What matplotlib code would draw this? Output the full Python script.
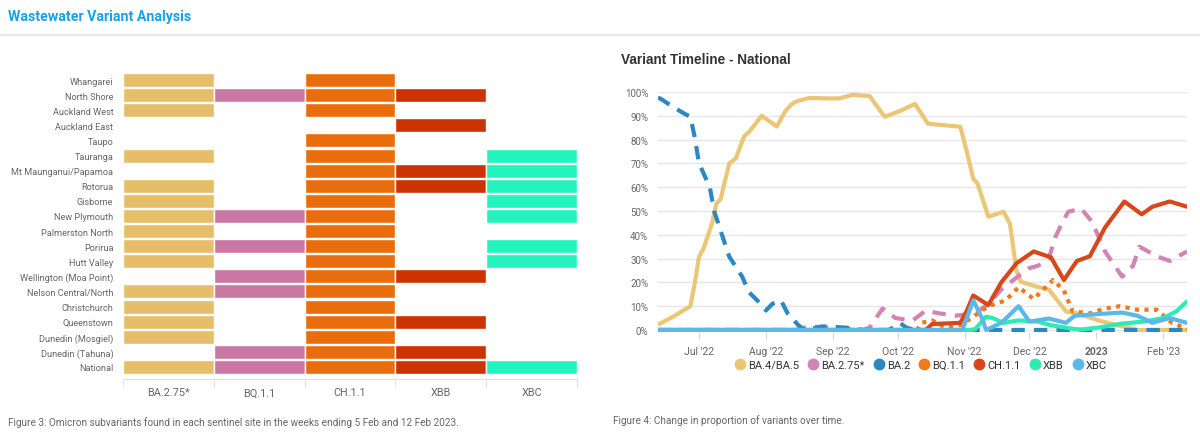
import matplotlib.pyplot as plt
import pandas as pd
from matplotlib.lines import Line2D
from matplotlib.ticker import FuncFormatter

plt.rcParams['font.family'] = ['Roboto', 'DejaVu Sans']

# ---- Figure 3 data: which variants were found at each site ----
sites = [
    "Whangarei", "North Shore", "Auckland West", "Auckland East", "Taupo",
    "Tauranga", "Mt Maunganui/Papamoa", "Rotorua", "Gisborne", "New Plymouth",
    "Palmerston North", "Porirua", "Hutt Valley", "Wellington (Moa Point)",
    "Nelson Central/North", "Christchurch", "Queenstown", "Dunedin (Mosgiel)",
    "Dunedin (Tahuna)", "National",
]
variants = ["BA.2.75*", "BQ.1.1", "CH.1.1", "XBB", "XBC"]
variant_colors = ["#E6BE69", "#CB77A4", "#E96D0C", "#CC3300", "#21F5BD"]
found = [
    [1, 0, 1, 0, 0],
    [1, 1, 1, 1, 0],
    [1, 0, 1, 0, 0],
    [0, 0, 0, 1, 0],
    [0, 0, 1, 0, 0],
    [1, 0, 1, 0, 1],
    [0, 0, 1, 1, 1],
    [1, 0, 1, 1, 1],
    [1, 0, 1, 0, 1],
    [1, 1, 1, 0, 1],
    [1, 0, 1, 0, 0],
    [1, 1, 1, 0, 1],
    [1, 0, 1, 0, 1],
    [0, 1, 1, 1, 0],
    [1, 1, 1, 0, 0],
    [1, 0, 1, 0, 0],
    [1, 0, 1, 1, 0],
    [1, 0, 1, 0, 0],
    [0, 1, 1, 1, 0],
    [1, 1, 1, 1, 1],
]

# ---- Figure 4 data: national variant proportions (%) ----
ba45_dates = ["2022-06-12", "2022-06-13", "2022-06-19", "2022-06-23", "2022-06-27", "2022-06-29",
              "2022-07-01", "2022-07-03", "2022-07-07", "2022-07-09", "2022-07-11", "2022-07-15",
              "2022-07-18", "2022-07-22", "2022-07-24", "2022-07-30", "2022-08-06", "2022-08-10",
              "2022-08-13", "2022-08-15", "2022-08-21", "2022-08-30", "2022-09-04", "2022-09-10",
              "2022-09-18", "2022-09-25", "2022-10-02", "2022-10-09", "2022-10-15", "2022-10-30",
              "2022-11-02", "2022-11-05", "2022-11-07", "2022-11-12", "2022-11-19", "2022-11-22",
              "2022-11-25", "2022-11-27", "2022-12-04", "2022-12-10", "2022-12-18", "2022-12-23",
              "2023-01-02", "2023-01-13", "2023-01-20", "2023-02-12"]
ba45_vals = [2.5, 2.7, 5.6, 7.8, 10, 19.5,
             30.8, 34, 44.7, 53, 55, 70,
             72, 81.6, 83, 90, 85.5, 92,
             95, 96, 97.5, 97.3, 97.3, 98.8,
             98.3, 89.6, 92, 95, 86.7, 85.4,
             75, 63.6, 61.5, 47.6, 49.7, 44.7,
             25, 20.3, 18.3, 17, 7.8, 7,
             4, 1.5, 0, 0]

ba275_dates = ["2022-06-12", "2022-08-15", "2022-08-21", "2022-08-30", "2022-09-15", "2022-09-18",
               "2022-09-24", "2022-09-30", "2022-10-08", "2022-10-14", "2022-10-20", "2022-10-28",
               "2022-11-06", "2022-11-12", "2022-11-18", "2022-11-25", "2022-12-01", "2022-12-05",
               "2022-12-10", "2022-12-13", "2022-12-16", "2022-12-19", "2022-12-25", "2022-12-30",
               "2023-01-05", "2023-01-13", "2023-01-18", "2023-01-21", "2023-01-29", "2023-02-04",
               "2023-02-12"]
ba275_vals = [0, 0, 1.5, 1, 0, 1,
              9, 5, 4, 8.2, 7, 6,
              7, 11, 17, 22, 26, 27,
              30, 39, 44.7, 49.7, 51, 45.5,
              33, 22.4, 27, 35, 31, 29,
              33]

ba2_dates = ["2022-06-12", "2022-06-13", "2022-06-18", "2022-06-24", "2022-06-27", "2022-06-29",
             "2022-07-01", "2022-07-06", "2022-07-08", "2022-07-11", "2022-07-15", "2022-07-21",
             "2022-07-24", "2022-07-28", "2022-08-01", "2022-08-04", "2022-08-08", "2022-08-11",
             "2022-08-16", "2022-08-19", "2022-08-27", "2022-09-07", "2022-09-15", "2022-09-27",
             "2022-10-02", "2022-10-05", "2022-10-09", "2023-02-12"]
ba2_vals = [97.5, 97.3, 94.3, 91, 89.6, 81,
            70, 60, 50, 41.7, 30.8, 22.4,
            16, 12.4, 8.2, 11, 12.4, 7,
            2, 0, 1.5, 1, 0, 0,
            3, 1, 0, 0]

bq11_dates = ["2022-06-12", "2022-10-10", "2022-10-12", "2022-10-17", "2022-10-23", "2022-10-30",
              "2022-11-05", "2022-11-12", "2022-11-20", "2022-11-26", "2022-12-03", "2022-12-07",
              "2022-12-12", "2022-12-17", "2022-12-21", "2022-12-29", "2023-01-05", "2023-01-12",
              "2023-01-20", "2023-01-29", "2023-02-05", "2023-02-12"]
bq11_vals = [0, 0, 3, 4, 1, 2,
             5.6, 10, 12.4, 18, 13, 16.6,
             21, 16.6, 7.8, 7, 9, 10,
             8.5, 8.5, 3, 0.5]

ch11_dates = ["2022-06-12", "2022-10-14", "2022-10-17", "2022-10-30", "2022-11-02", "2022-11-05",
              "2022-11-12", "2022-11-18", "2022-11-25", "2022-12-03", "2022-12-11", "2022-12-17",
              "2022-12-23", "2022-12-29", "2023-01-05", "2023-01-14", "2023-01-22", "2023-01-27",
              "2023-02-04", "2023-02-12"]
ch11_vals = [0, 0, 2.5, 3, 8, 14.5,
             10.5, 20, 28, 33, 30.5, 21,
             29, 31, 43, 54, 48.6, 51.8,
             54, 51.8]

xbb_dates = ["2022-06-12", "2022-11-04", "2022-11-06", "2022-11-11", "2022-11-14", "2022-11-19",
             "2022-11-26", "2022-12-05", "2022-12-11", "2022-12-21", "2022-12-25", "2023-01-02",
             "2023-01-13", "2023-01-23", "2023-02-01", "2023-02-07", "2023-02-12"]
xbb_vals = [0, 0, 0.5, 5.6, 5, 3,
            4, 3.5, 2, 0.5, 0.2, 1,
            2.7, 3.5, 5, 7.8, 12]

xbc_dates = ["2022-06-12", "2022-10-31", "2022-11-02", "2022-11-05", "2022-11-09", "2022-11-11",
             "2022-11-18", "2022-11-26", "2022-12-01", "2022-12-10", "2022-12-18", "2022-12-22",
             "2023-01-02", "2023-01-13", "2023-01-20", "2023-01-27", "2023-02-04", "2023-02-12"]
xbc_vals = [0, 0, 5, 12.5, 5, 0,
            3, 10, 3.5, 4.8, 3, 6,
            6.7, 7.3, 6, 3, 5, 3]

series_names = ["BA.4/BA.5", "BA.2.75*", "BA.2", "BQ.1.1", "CH.1.1", "XBB", "XBC"]
series_colors = ["#EBC674", "#D383B4", "#2B88C2", "#F07A1A", "#D8461B", "#2EEBB5", "#5DB8EA"]

fig = plt.figure(figsize=(12, 4.35), dpi=100)
W, H = 1200, 435

# page header
fig.text(8 / W, 1 - 17 / H, "Wastewater Variant Analysis", color="#17A2E4",
         fontsize=10.2, fontweight="bold", va="center", ha="left")
fig.add_artist(Line2D([0, 1], [1 - 36 / H] * 2, color="#e8e8e8", lw=1.5))

# ---- heatmap ----
ax1 = fig.add_axes([123 / W, 1 - 380 / H, 454 / W, (380 - 73.5) / H])
n = len(sites)
for j, (v, c) in enumerate(zip(variants, variant_colors)):
    rows = [i for i in range(n) if found[i][j]]
    ax1.barh(rows, 1, left=j, height=0.93, color=c, edgecolor="white", linewidth=1.0)
ax1.set_xlim(0, len(variants))
ax1.set_ylim(n - 0.5 + 0.3, -0.5)
ax1.set_yticks(range(n))
ax1.set_yticklabels(sites, fontsize=6.6, color="#666666")
ax1.tick_params(axis="y", length=0, pad=7)
ax1.set_xticks([j + 0.5 for j in range(len(variants))])
ax1.set_xticklabels(variants, fontsize=7.8, color="#666666")
ax1.set_xticks(range(len(variants) + 1), minor=True)
ax1.tick_params(axis="x", which="major", length=0, pad=6)
ax1.tick_params(axis="x", which="minor", length=6, color="#dddddd")
for s in ["top", "right", "left"]:
    ax1.spines[s].set_visible(False)
ax1.spines["bottom"].set_color("#e0e0e0")

fig.text(8 / W, 1 - 423 / H,
         "Figure 3: Omicron subvariants found in each sentinel site in the weeks ending 5 Feb and 12 Feb 2023.",
         fontsize=7.2, color="#666666", va="center")

# ---- timeline ----
fig.text(621 / W, 1 - 60 / H, "Variant Timeline - National", fontsize=9.8,
         fontweight="bold", color="#333333", va="center", family=["Liberation Sans"])

ax2 = fig.add_axes([658 / W, 1 - 333 / H, 529 / W, (333 - 93) / H])
all_dates = [ba45_dates, ba275_dates, ba2_dates, bq11_dates, ch11_dates, xbb_dates, xbc_dates]
all_vals = [ba45_vals, ba275_vals, ba2_vals, bq11_vals, ch11_vals, xbb_vals, xbc_vals]
styles = ["solid", (0, (3.2, 2.2)), (0, (3.2, 2.2)), (0, (1, 1.3)), "solid", "solid", "solid"]
for d, v, c, ls, name in zip(all_dates, all_vals, series_colors, styles, series_names):
    ax2.plot(pd.to_datetime(d), v, color=c, lw=3, linestyle=ls, label=name,
             solid_joinstyle="round", solid_capstyle="round", dash_capstyle="butt")

ax2.set_xlim(pd.Timestamp("2022-06-12"), pd.Timestamp("2023-02-12"))
ax2.set_ylim(-0.85, 100)
ax2.set_yticks(range(0, 101, 10))
ax2.yaxis.set_major_formatter(FuncFormatter(lambda y, p: f"{int(y)}%"))
ax2.grid(axis="y", color="#e6e6e6", lw=1)
ax2.set_axisbelow(True)
ax2.tick_params(axis="y", length=0, pad=7, labelsize=7, labelcolor="#666666")
month_ticks = pd.date_range("2022-07-01", "2023-02-01", freq="MS")
ax2.set_xticks(month_ticks)
ax2.set_xticklabels(["2023" if t.month == 1 else t.strftime("%b '%y") for t in month_ticks])
ax2.tick_params(axis="x", length=5, color="#d5d5e0", pad=5, labelsize=7.5, labelcolor="#666666")
for lbl in ax2.get_xticklabels():
    if lbl.get_text() == "2023":
        lbl.set_fontweight("bold")
for s in ax2.spines.values():
    s.set_visible(False)

handles = [Line2D([], [], marker="o", linestyle="", color=c, markersize=7.5) for c in series_colors]
fig.legend(handles, series_names, loc="center", bbox_to_anchor=(920 / W, 1 - 366 / H),
           ncol=7, frameon=False, fontsize=8, handletextpad=0.1, columnspacing=0.7,
           handlelength=1.2, labelcolor="#333333", borderaxespad=0)

fig.text(613 / W, 1 - 421 / H, "Figure 4: Change in proportion of variants over time.",
         fontsize=7.2, color="#666666", va="center")

fig.savefig("out.png", dpi=100, facecolor="white")
